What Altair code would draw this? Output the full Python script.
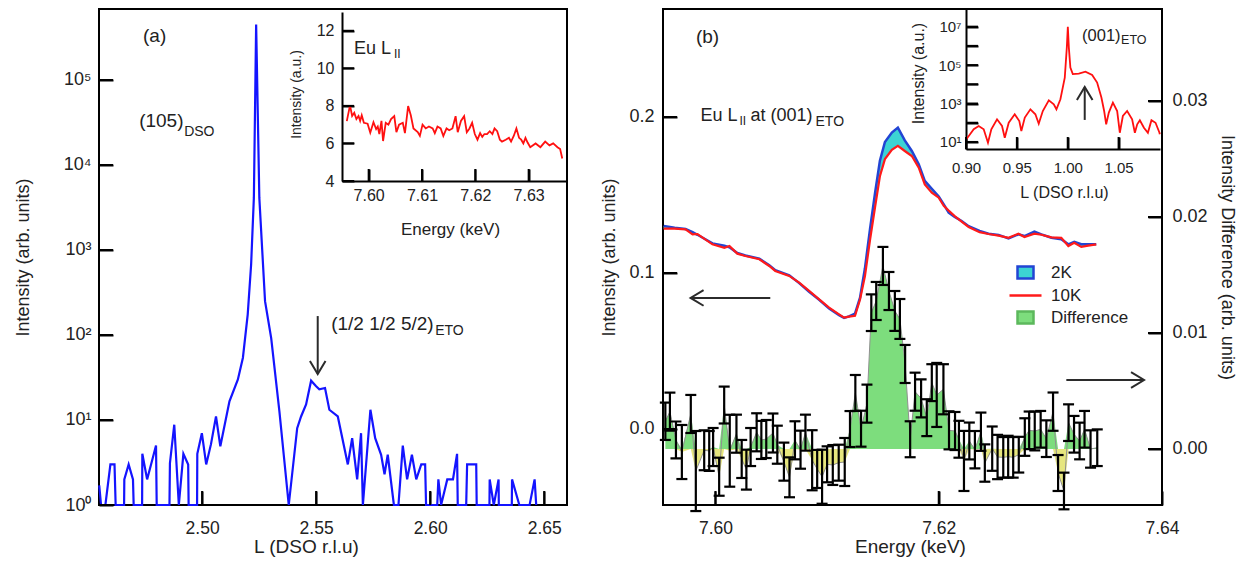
import json
import altair as alt
import pandas as pd
import numpy as np

FONT = "Liberation Sans"
INK = "#222222"

# ---------------- Panel (a): L scan (log intensity) ----------------
a_L = [2.4549, 2.4557, 2.4576, 2.4598, 2.4616, 2.4621, 2.4658, 2.4659, 2.4678, 2.4697, 2.4700, 2.4737, 2.4738,
       2.4759, 2.4798, 2.4801, 2.4857, 2.4859, 2.4878, 2.4898, 2.4918, 2.4939, 2.4941, 2.4978, 2.4979, 2.4999,
       2.5018, 2.5039, 2.5061, 2.5080, 2.5120, 2.5157, 2.5179, 2.5200, 2.5215, 2.5227, 2.5237, 2.5251, 2.5276,
       2.5303, 2.5339, 2.5380, 2.5417, 2.5434, 2.5456, 2.5478, 2.5500, 2.5514, 2.5539, 2.5558, 2.5595, 2.5639,
       2.5658, 2.5680, 2.5697, 2.5705, 2.5738, 2.5759, 2.5785, 2.5800, 2.5814, 2.5841, 2.5861, 2.5880, 2.5899,
       2.5920, 2.5939, 2.5961, 2.5978, 2.5982, 2.6031, 2.6036, 2.6048, 2.6075, 2.6100, 2.6118, 2.6121, 2.6158,
       2.6162, 2.6202, 2.6204, 2.6260, 2.6261, 2.6279, 2.6300, 2.6301, 2.6358, 2.6359, 2.6391, 2.6436, 2.6458,
       2.6465]
a_I = [1.7, 1, 1, 3, 3, 1, 1, 2, 3, 2, 1, 1, 4, 2, 5, 1, 1, 3.1, 8.8, 1, 4, 3, 1, 1, 4, 7, 3, 5.2, 11, 4.9,
       16.6, 30, 54, 174, 674, 4100, 450000, 4100, 250, 92, 12.6, 1, 8, 11, 15.2, 29, 25, 23, 23.8, 13.2, 11, 3,
       6.1, 2, 7, 1, 13.2, 6.1, 3.9, 2.3, 3.9, 1, 1, 5, 2, 3.9, 2, 3, 3, 1, 1, 2, 1, 2, 2, 4, 1, 1, 3, 3, 1, 1, 2,
       1, 2, 1, 1, 2, 1, 1, 2, 1]

# Panel (a) inset: Eu L_II energy scan
ai_E = [7.5959, 7.5965, 7.5969, 7.5973, 7.5977, 7.5981, 7.5984, 7.5987, 7.5991, 7.5998, 7.6003, 7.6009, 7.6014,
        7.6017, 7.6020, 7.6024, 7.6027, 7.6032, 7.6037, 7.6042, 7.6048, 7.6052, 7.6057, 7.6064, 7.6068, 7.6074,
        7.6079, 7.6084, 7.6092, 7.6096, 7.6101, 7.6107, 7.6113, 7.6120, 7.6124, 7.6129, 7.6135, 7.6140, 7.6146,
        7.6151, 7.6157, 7.6163, 7.6167, 7.6173, 7.6179, 7.6184, 7.6189, 7.6194, 7.6199, 7.6204, 7.6209, 7.6213,
        7.6217, 7.6222, 7.6227, 7.6232, 7.6236, 7.6241, 7.6246, 7.6250, 7.6257, 7.6263, 7.6267, 7.6272, 7.6277,
        7.6282, 7.6286, 7.6290, 7.6294, 7.6298, 7.6303, 7.6313, 7.6322, 7.6331, 7.6339, 7.6346, 7.6354, 7.6359,
        7.6363]
ai_I = [7.19, 8.03, 7.46, 7.63, 7.30, 7.46, 7.20, 7.50, 7.10, 7.05, 6.57, 7.13, 6.77, 6.90, 6.50, 7.20, 6.13,
        7.10, 7.00, 7.30, 7.46, 6.60, 7.00, 7.10, 6.55, 7.99, 7.50, 6.80, 6.60, 6.40, 7.00, 6.80, 6.90, 6.80,
        6.55, 6.90, 6.80, 6.40, 6.80, 6.70, 6.80, 7.45, 6.60, 7.20, 7.45, 6.60, 6.80, 7.10, 6.50, 6.20, 6.55,
        6.35, 6.50, 6.50, 6.65, 6.50, 6.80, 6.65, 6.20, 6.10, 6.20, 6.30, 6.10, 6.40, 6.80, 6.30, 6.20, 6.00,
        6.30, 6.05, 5.80, 6.00, 5.80, 6.10, 5.90, 6.00, 5.80, 5.70, 5.20]

# ---------------- Panel (b): Eu L_II at (001)ETO ----------------
b_E = [7.59536, 7.59634, 7.59732, 7.59795, 7.59839, 7.59973, 7.60080, 7.60125, 7.60196, 7.60268, 7.60393,
       7.60482, 7.60536, 7.60661, 7.60750, 7.60839, 7.60929, 7.61018, 7.61107, 7.61152, 7.61196, 7.61250,
       7.61295, 7.61339, 7.61384, 7.61429, 7.61473, 7.61518, 7.61580, 7.61634, 7.61696, 7.61759, 7.61821,
       7.61875, 7.61938, 7.62000, 7.62045, 7.62089, 7.62143, 7.62205, 7.62268, 7.62366, 7.62446, 7.62536,
       7.62625, 7.62714, 7.62768, 7.62857, 7.62920, 7.63009, 7.63098, 7.63161, 7.63214, 7.63277, 7.63339,
       7.63411]
b_2K = [0.1302, 0.1290, 0.1282, 0.1262, 0.1245, 0.1190, 0.1175, 0.1165, 0.1128, 0.1112, 0.1092, 0.1050, 0.1018,
        0.0985, 0.0935, 0.0880, 0.0828, 0.0772, 0.0730, 0.0712, 0.0722, 0.0740, 0.0842, 0.1030, 0.1280, 0.1510,
        0.1720, 0.1840, 0.1900, 0.1932, 0.1850, 0.1782, 0.1697, 0.1590, 0.1540, 0.1490, 0.1440, 0.1387, 0.1360,
        0.1333, 0.1300, 0.1270, 0.1252, 0.1244, 0.1222, 0.1248, 0.1237, 0.1265, 0.1248, 0.1226, 0.1216, 0.1184,
        0.1200, 0.1184, 0.1184, 0.1184]
b_10K = [0.1284, 0.1284, 0.1280, 0.1248, 0.1250, 0.1184, 0.1162, 0.1173, 0.1124, 0.1109, 0.1088, 0.1045, 0.1013,
         0.0981, 0.0938, 0.0885, 0.0831, 0.0778, 0.0735, 0.0714, 0.0720, 0.0726, 0.0830, 0.0980, 0.1210, 0.1420,
         0.1620, 0.1730, 0.1790, 0.1815, 0.1782, 0.1750, 0.1675, 0.1568, 0.1515, 0.1483, 0.1430, 0.1400, 0.1365,
         0.1330, 0.1295, 0.1262, 0.1250, 0.1240, 0.1226, 0.1252, 0.1231, 0.1252, 0.1245, 0.1228, 0.1225, 0.1173,
         0.1194, 0.1167, 0.1175, 0.1184]

# Difference (right axis) with error bars
d_E = [7.59551, 7.59592, 7.59646, 7.59699, 7.59779, 7.59824, 7.59899, 7.59944, 7.59979, 7.60033, 7.60078,
       7.60128, 7.60188, 7.60235, 7.60277, 7.60315, 7.60369, 7.60411, 7.60455, 7.60515, 7.60554, 7.60613,
       7.60663, 7.60712, 7.60762, 7.60806, 7.60866, 7.60911, 7.60955, 7.61000, 7.61051, 7.61104, 7.61158,
       7.61205, 7.61253, 7.61304, 7.61357, 7.61396, 7.61440, 7.61500, 7.61554, 7.61607, 7.61652, 7.61699,
       7.61744, 7.61788, 7.61842, 7.61893, 7.61938, 7.61982, 7.62042, 7.62092, 7.62146, 7.62181, 7.62226,
       7.62274, 7.62324, 7.62378, 7.62413, 7.62479, 7.62527, 7.62578, 7.62622, 7.62667, 7.62717, 7.62771,
       7.62810, 7.62860, 7.62913, 7.62964, 7.63024, 7.63069, 7.63122, 7.63163, 7.63212, 7.63262, 7.63306,
       7.63360, 7.63420]
d_val = [0.00239, 0.00322, 0.00078, -0.00026, 0.00302, -0.00190, -0.00011, -0.00017, 0.00017, -0.00239, 0.00379,
         -0.00015, 0.00132, -0.00086, -0.00178, 0.00017, 0.00144, 0.00078, 0.00086, 0.00138, 0.00037, -0.00109,
         -0.00244, 0.00075, -0.00006, 0.00141, -0.00097, -0.00172, -0.00239, -0.00132, -0.00138, -0.00118,
         -0.00112, 0.00172, 0.00483, 0.00175, 0.00391, 0.01175, 0.01276, 0.01578, 0.01362, 0.01190, 0.01121,
         0.00733, 0.00084, 0.00494, 0.00437, 0.00270, 0.00572, 0.00466, 0.00515, 0.00161, 0.00155, 0.00084,
         -0.00103, 0.00069, -0.00006, 0.00149, -0.00121, 0.00003, -0.00069, -0.00072, -0.00066, -0.00072,
         -0.00049, 0.00103, 0.00161, 0.00155, 0.00170, 0.00089, 0.00322, -0.00207, -0.00362, 0.00227, 0.00127,
         0.00069, 0.00170, 0.00000, 0.00011]
d_err = [0.00161, 0.00164, 0.00159, 0.00233, 0.00164, 0.00345, 0.00172, 0.00172, 0.00164, 0.00164, 0.00159,
         0.00310, 0.00164, 0.00164, 0.00172, 0.00164, 0.00164, 0.00164, 0.00164, 0.00168, 0.00164, 0.00164,
         0.00172, 0.00164, 0.00164, 0.00155, 0.00259, 0.00164, 0.00233, 0.00155, 0.00172, 0.00155, 0.00207,
         0.00155, 0.00155, 0.00155, 0.00164, 0.00158, 0.00164, 0.00164, 0.00164, 0.00172, 0.00172, 0.00164,
         0.00155, 0.00164, 0.00164, 0.00159, 0.00159, 0.00276, 0.00216, 0.00164, 0.00164, 0.00159, 0.00259,
         0.00159, 0.00161, 0.00165, 0.00161, 0.00191, 0.00191, 0.00175, 0.00180, 0.00175, 0.00154, 0.00162,
         0.00162, 0.00167, 0.00158, 0.00158, 0.00165, 0.00155, 0.00158, 0.00158, 0.00158, 0.00158, 0.00158,
         0.00161, 0.00158]

# Panel (b) inset: L scan around (001)ETO
bi_L = [0.9003, 0.9027, 0.9076, 0.9125, 0.9174, 0.9216, 0.9249, 0.9305, 0.9354, 0.9381, 0.9420, 0.9479, 0.9524,
        0.9544, 0.9578, 0.9633, 0.9682, 0.9715, 0.9755, 0.9814, 0.9863, 0.9889, 0.9928, 0.9971, 0.9991, 1.0001,
        1.0011, 1.0026, 1.0050, 1.0109, 1.0174, 1.0240, 1.0289, 1.0331, 1.0358, 1.0378, 1.0404, 1.0444, 1.0486,
        1.0512, 1.0542, 1.0584, 1.0633, 1.0660, 1.0683, 1.0709, 1.0749, 1.0788, 1.0823, 1.0863, 1.0902, 1.0905]
bi_I = [13.8, 20.4, 45.7, 67.6, 45.7, 9.1, 45.7, 151, 67.6, 16.6, 100, 275, 123, 37.2, 186, 501, 275, 89, 407,
        1480, 912, 501, 1660, 22400, 813000, 9.8e6, 813000, 74100, 33900, 36300, 45700, 30900, 12300, 2040, 407,
        83, 339, 1120, 407, 30.2, 224, 407, 151, 30.2, 83, 135, 55, 30.2, 135, 100, 30.2, 25.1]

SERIES = ["2K", "10K", "Difference"]

# tick values of every axis
A_XT = [2.50, 2.55, 2.60, 2.65]
A_YT = [1, 10, 100, 1000, 10000, 100000]
AI_XT = [7.60, 7.61, 7.62, 7.63]
AI_YT = [4, 6, 8, 10, 12]
B_XT = [7.60, 7.62, 7.64]
B_YT = [0, 0.1, 0.2]
D_YT = [0, 0.01, 0.02, 0.03]
BI_XT = [0.90, 0.95, 1.00, 1.05]
BI_YT = [10, 100, 1000, 10000, 100000, 1000000, 10000000]

# ---------------- tables ----------------
df_a = pd.DataFrame({"L": a_L, "I": a_I})
df_ai = pd.DataFrame({"E": ai_E, "I": ai_I})
df_b = pd.DataFrame({"E": b_E, "b": b_2K, "r": b_10K})
df_d = pd.DataFrame({"E": d_E, "D": d_val, "err": d_err})
df_d["lo"] = df_d["D"] - df_d["err"]
df_d["hi"] = df_d["D"] + df_d["err"]
df_d["pos"] = df_d["D"].clip(lower=0)
df_d["neg"] = df_d["D"].clip(upper=0)
df_d["zero"] = 0.0
df_bi = pd.DataFrame({"L": bi_L, "I": bi_I})
df_leg = pd.DataFrame({"series": SERIES})
ONE = pd.DataFrame({"k": [0]})

H = 496
WA = 468
WB = 499

SUPS = json.dumps(["⁰", "¹", "²", "³", "⁴", "⁵", "⁶", "⁷", "⁸"], ensure_ascii=False)
SUP_EXPR = f"'10' + {SUPS}[round(log(datum.value) / LN10)]"
ODD_EXPR = f"round(log(datum.value) / LN10) % 2 == 1 ? '10' + {SUPS}[round(log(datum.value) / LN10)] : ''"


def ax_bottom_in(at, values, fmt, tick, gap, lsize, title, tx, ty, tsize, domain):
    return alt.Axis(orient="top", offset=-at, values=values, format=fmt,
                    ticks=True, tickSize=tick, tickWidth=2, tickColor="black",
                    domain=domain, domainColor="black", domainWidth=2,
                    labelBaseline="top", labelAlign="center", labelPadding=-(tick + gap),
                    labelFontSize=lsize, labelFont=FONT, labelColor=INK,
                    labelFlush=False, labelOverlap=False, labelAngle=0,
                    title=title, titleX=tx, titleY=ty, titleAlign="center", titleBaseline="middle",
                    titleAngle=0, titleFontSize=tsize, titleFont=FONT, titleColor=INK,
                    titleFontWeight="normal", grid=False)


def ax_left_in(at, width, values, tick, gap, lsize, title, tx, ty, tsize, domain, fmt=None, expr=None):
    kw = {}
    if fmt is not None:
        kw["format"] = fmt
    if expr is not None:
        kw["labelExpr"] = expr
    return alt.Axis(orient="right", offset=at - width, values=values,
                    ticks=True, tickSize=tick, tickWidth=2, tickColor="black",
                    domain=domain, domainColor="black", domainWidth=2,
                    labelAlign="right", labelBaseline="middle", labelPadding=-(tick + gap),
                    labelFontSize=lsize, labelFont=FONT, labelColor=INK,
                    labelFlush=False, labelOverlap=False,
                    title=title, titleX=tx, titleY=ty, titleAngle=270, titleAlign="center",
                    titleBaseline="middle", titleFontSize=tsize, titleFont=FONT, titleColor=INK,
                    titleFontWeight="normal", grid=False, **kw)


def ax_right_in(at, values, tick, gap, lsize, title, tx, ty, tsize, fmt):
    return alt.Axis(orient="left", offset=-at, values=values, format=fmt,
                    ticks=True, tickSize=tick, tickWidth=2, tickColor="black",
                    domain=False,
                    labelAlign="left", labelBaseline="middle", labelPadding=-(tick + gap),
                    labelFontSize=lsize, labelFont=FONT, labelColor=INK,
                    labelFlush=False, labelOverlap=False,
                    title=title, titleX=tx, titleY=ty, titleAngle=90, titleAlign="center",
                    titleBaseline="middle", titleFontSize=tsize, titleFont=FONT, titleColor=INK,
                    titleFontWeight="normal", grid=False)


def xticks(values, scale, at, length):
    """Inward tick marks of a horizontal axis lying at pixel row `at`."""
    return alt.Chart(pd.DataFrame({"v": values})).mark_rule(
        color="black", strokeWidth=2, orient="vertical").encode(
        x=alt.X("v:Q", scale=scale, axis=None), y=alt.value(at), y2=alt.value(at - length))


def yticks(values, scale, at, length):
    """Inward tick marks of a vertical axis lying at pixel column `at` (negative length points left)."""
    return alt.Chart(pd.DataFrame({"v": values})).mark_tick(
        color="black", orient="horizontal", size=abs(length), thickness=2, opacity=1).encode(
        y=alt.Y("v:Q", scale=scale, axis=None), x=alt.value(at + length / 2))


def note(text, x, y, sys, size, dx=0, dy=0, align="left"):
    sx, sy = sys
    return alt.Chart(ONE).mark_text(text=text, font=FONT, fontSize=size, dx=dx, dy=dy, align=align,
                                    baseline="middle", color=INK).encode(
        x=alt.XDatum(x, scale=sx, axis=None), y=alt.YDatum(y, scale=sy, axis=None))


DOWN = "M-0.6,-1L0,0L0.6,-1"
UP = "M-0.6,1L0,0L0.6,1"
LEFT = "M1,-0.6L0,0L1,0.6"
RIGHT = "M-1,-0.6L0,0L-1,0.6"


def arrow(x1, y1, x2, y2, sys, shape, color="#2b2b2b"):
    sx, sy = sys
    line = alt.Chart(ONE).mark_rule(color=color, strokeWidth=2).encode(
        x=alt.XDatum(x1, scale=sx, axis=None), y=alt.YDatum(y1, scale=sy, axis=None),
        x2=alt.X2Datum(x2), y2=alt.Y2Datum(y2))
    head = alt.Chart(ONE).mark_point(shape=shape, size=676, filled=False, strokeWidth=2,
                                     color=color, opacity=1).encode(
        x=alt.XDatum(x2, scale=sx, axis=None), y=alt.YDatum(y2, scale=sy, axis=None))
    return [line, head]


# ---------------- scales ----------------
xa = alt.Scale(domain=[2.4548, 2.660], zero=False, nice=False)
ya = alt.Scale(type="log", domain=[1, 684000], nice=False)
xai = alt.Scale(domain=[7.595, 7.637], range=[243, 467], zero=False, nice=False)
yai = alt.Scale(domain=[4, 13], range=[172, 3], zero=False, nice=False)
SA, SAI = (xa, ya), (xai, yai)

XB_DOM = [7.5953, 7.64]
xb = alt.Scale(domain=XB_DOM, zero=False, nice=False)
yb = alt.Scale(domain=[-0.04872, 0.26923], zero=False, nice=False)
yd = alt.Scale(domain=[-0.004828, 0.037931], zero=False, nice=False)
xbi = alt.Scale(domain=[0.90, 1.0907], range=[303, 497], zero=False, nice=False)
ybi = alt.Scale(type="log", domain=[4.3, 8.3e7], range=[140, 0], nice=False)
SB, SD, SBI = (xb, yb), (xb, yd), (xbi, ybi)

# ---------------- Panel (a) ----------------
a_line = alt.Chart(df_a).mark_line(color="#1414ff", strokeWidth=2.2).encode(
    x=alt.X("L:Q", scale=xa,
            axis=ax_bottom_in(H, A_XT, ".2f", 14, 14, 17.5, "L (DSO r.l.u)", 207, 41, 19, False)),
    y=alt.Y("I:Q", scale=ya,
            axis=ax_left_in(0, WA, A_YT, 14, 8, 18,
                            "Intensity (arb. units)", -76, H / 2, 18, False, expr=SUP_EXPR)))

ai_line = alt.Chart(df_ai).mark_line(color="#ff1010", strokeWidth=1.8).encode(
    x=alt.X("E:Q", scale=xai,
            axis=ax_bottom_in(172, AI_XT, ".2f", 12, 6, 16, "Energy (keV)", 351, 48, 17, True)),
    y=alt.Y("I:Q", scale=yai,
            axis=ax_left_in(243, WA, AI_YT, 12, 8, 16, "Intensity (a.u.)", -46, 85, 14, True)))

panel_a = alt.layer(
    a_line,
    ai_line,
    xticks(A_XT, xa, H, 14),
    yticks(A_YT, ya, 0, 14),
    xticks(AI_XT, xai, 172, 12),
    yticks(AI_YT, yai, 243, 12),
    note("(a)", 2.4792, 325000, SA, 19, align="center"),
    note("(105)", 2.4724, 33000, SA, 19),
    note("DSO", 2.4724, 33000, SA, 14, dx=45, dy=11),
    note("(1/2 1/2 5/2)", 2.5566, 135, SA, 19),
    note("ETO", 2.5566, 135, SA, 14, dx=104, dy=7),
    *arrow(2.5507, 167, 2.5507, 34.8, SA, DOWN),
    note("Eu L", 7.59725, 11.02, SAI, 18),
    note("II", 7.59725, 11.02, SAI, 12, dx=40, dy=5),
).resolve_scale(x="independent", y="independent").properties(width=WA, height=H)

# ---------------- Panel (b) ----------------
green = alt.Chart(df_d).mark_area(color="#7ddd7d", opacity=1).encode(
    x=alt.X("E:Q", scale=xb, axis=None),
    y=alt.Y("pos:Q", scale=yd,
            axis=ax_right_in(WB, D_YT, 14, 10, 18,
                             "Intensity Difference (arb. units)", 64, H / 2, 18, ".2f")),
    y2="zero:Q")
yellow = alt.Chart(df_d).mark_area(color="#e6e67e", opacity=1).encode(
    x=alt.X("E:Q", scale=xb, axis=None), y=alt.Y("neg:Q", scale=yd, axis=None), y2="zero:Q")
dline = alt.Chart(df_d).mark_line(color="#909090", strokeWidth=1).encode(
    x=alt.X("E:Q", scale=xb, axis=None), y=alt.Y("D:Q", scale=yd, axis=None))
erule = alt.Chart(df_d).mark_rule(color="black", strokeWidth=2.2).encode(
    x=alt.X("E:Q", scale=xb, axis=None), y=alt.Y("lo:Q", scale=yd, axis=None), y2="hi:Q")
ecap_lo = alt.Chart(df_d).mark_tick(orient="horizontal", size=11, thickness=2.2, color="black", opacity=1).encode(
    x=alt.X("E:Q", scale=xb, axis=None), y=alt.Y("lo:Q", scale=yd, axis=None))
ecap_hi = alt.Chart(df_d).mark_tick(orient="horizontal", size=11, thickness=2.2, color="black", opacity=1).encode(
    x=alt.X("E:Q", scale=xb, axis=None), y=alt.Y("hi:Q", scale=yd, axis=None))

cyan = alt.Chart(df_b).mark_area(color="#3cd3d3", opacity=1).encode(
    x=alt.X("E:Q", scale=xb,
            axis=ax_bottom_in(H, B_XT, ".2f", 14, 14, 17.5, "Energy (keV)", 247, 41, 19, False)),
    y=alt.Y("r:Q", scale=yb,
            axis=ax_left_in(0, WB, B_YT, 14, 9, 18, "Intensity (arb. units)", -54, H / 2, 18, False,
                            fmt=".1f")),
    y2="b:Q")
blue = alt.Chart(df_b).mark_line(color="#2244d4", strokeWidth=2.5).encode(
    x=alt.X("E:Q", scale=xb, axis=None), y=alt.Y("b:Q", scale=yb, axis=None))
red = alt.Chart(df_b).mark_line(color="#ff1a1a", strokeWidth=2.2).encode(
    x=alt.X("E:Q", scale=xb, axis=None), y=alt.Y("r:Q", scale=yb, axis=None))

RECT = "M-1,-0.75H1V0.75H-1Z"
LINE = "M-2,0H2"
LEG = alt.Legend(title=None, orient="none", legendX=353, legendY=254, labelFontSize=17, labelFont=FONT,
                 labelColor=INK, labelOffset=16, rowPadding=2, padding=0, symbolSize=256,
                 symbolStrokeWidth=2.5, symbolOpacity=1)
legend_layer = alt.Chart(df_leg).mark_point(filled=True, opacity=1, size=256, clip=True, strokeWidth=2.5).encode(
    x=alt.XDatum(7.5, scale=xb, axis=None), y=alt.YDatum(0.1, scale=yb, axis=None),
    fill=alt.Fill("series:N", scale=alt.Scale(domain=SERIES, range=["#3cd3d3", "#ff1a1a", "#7ddd7d"]), legend=LEG),
    stroke=alt.Stroke("series:N", scale=alt.Scale(domain=SERIES, range=["#2244d4", "#ff1a1a", "#5cb85c"]),
                      legend=LEG),
    shape=alt.Shape("series:N", scale=alt.Scale(domain=SERIES, range=[RECT, LINE, RECT]), legend=LEG))

bi_line = alt.Chart(df_bi).mark_line(color="#ff1010", strokeWidth=1.8).encode(
    x=alt.X("L:Q", scale=xbi,
            axis=ax_bottom_in(140, BI_XT, ".2f", 12, 11, 15, "L (DSO r.l.u)", 401, 43, 16, True)),
    y=alt.Y("I:Q", scale=ybi,
            axis=ax_left_in(303, WB, BI_YT, 12, 5, 15,
                            "Intensity (a.u.)", -48, 64, 16, True, expr=ODD_EXPR)))

panel_b = alt.layer(
    green, yellow, dline, erule, ecap_lo, ecap_hi,
    cyan, blue, red, legend_layer,
    xticks(B_XT, xb, H, 14),
    yticks(B_YT, yb, 0, 14),
    yticks(D_YT, yd, WB, -14),
    note("(b)", 7.59929, 0.2513, SB, 19, align="center"),
    note("Eu L", 7.59866, 0.2006, SB, 18),
    note("II", 7.59866, 0.2006, SB, 12, dx=39, dy=5),
    note("at (001)", 7.59866, 0.2006, SB, 18, dx=50),
    note("ETO", 7.59866, 0.2006, SB, 14, dx=115, dy=6),
    *arrow(7.60491, 0.0840, 7.59777, 0.0840, SB, LEFT),
    *arrow(7.63143, 0.0314, 7.63839, 0.0314, SB, RIGHT),
    bi_line,
    xticks(BI_XT, xbi, 140, 12),
    yticks(BI_YT, ybi, 303, 12),
    note("(001)", 1.0141, 3.3e6, SBI, 16.5),
    note("ETO", 1.0141, 3.3e6, SBI, 12.5, dx=39, dy=4),
    *arrow(1.0167, 140, 1.0167, 7330, SBI, UP),
).resolve_scale(x="independent", y="independent").properties(width=WB, height=H)

chart = alt.hconcat(panel_a, panel_b, spacing=31).resolve_scale(
    fill="independent", stroke="independent", shape="independent"
).properties(
    padding={"left": 5, "top": 0, "right": 0, "bottom": 0}
).configure(font=FONT, background="white").configure_view(stroke="black", strokeWidth=2)

chart.save("out.html", embed_options={"renderer": "svg", "actions": False})
